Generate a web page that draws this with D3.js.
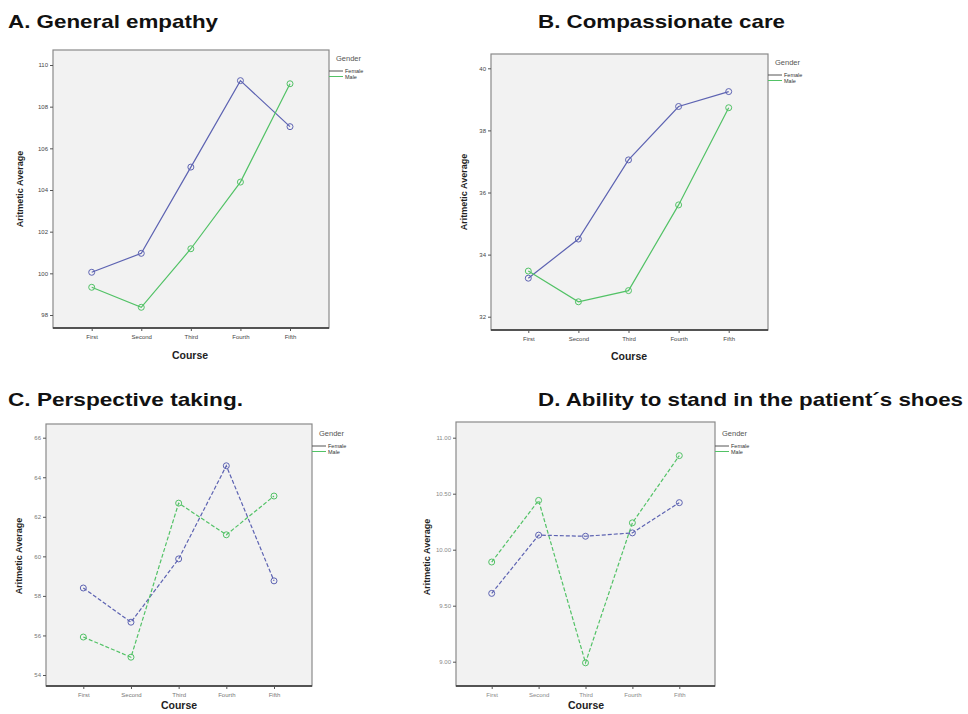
<!DOCTYPE html>
<html><head><meta charset="utf-8">
<script src="https://cdn.jsdelivr.net/npm/d3@7"></script>
<style>body{margin:0;background:#fff}svg{display:block}text{font-family:"Liberation Sans",Arial,sans-serif}</style>
</head><body>
<svg id="c" width="968" height="714"></svg>
<script>
// ---- data ----
const courses = ["First", "Second", "Third", "Fourth", "Fifth"];
const genders = ["Female", "Male"];

const empathyFemale = [100.05, 100.96, 105.1, 109.25, 107.04];
const empathyMale   = [99.33, 98.37, 101.18, 104.38, 109.1];
const empathyTicks  = [98, 100, 102, 104, 106, 108, 110];

const compassionFemale = [33.24, 34.5, 37.05, 38.77, 39.25];
const compassionMale   = [33.47, 32.48, 32.84, 35.6, 38.73];
const compassionTicks  = [32, 34, 36, 38, 40];

const perspectiveFemale = [58.4, 56.67, 59.87, 64.58, 58.76];
const perspectiveMale   = [55.92, 54.9, 62.69, 61.09, 63.05];
const perspectiveTicks  = [54, 56, 58, 60, 62, 64, 66];

const shoesFemale = [9.61, 10.13, 10.12, 10.15, 10.42];
const shoesMale   = [9.89, 10.44, 8.99, 10.24, 10.84];
const shoesTicks  = [9.0, 9.5, 10.0, 10.5, 11.0];

const titles = ["A. General empathy", "B. Compassionate care", "C. Perspective taking.", "D. Ability to stand in the patient\u00b4s shoes"];
const yTitle = "Aritmetic Average";
const xTitle = "Course";
const legendTitle = "Gender";

// ---- layout ----
const colors = {Female: "#5d63b2", Male: "#52c266"};
const panels = [
  {title: titles[0], f: empathyFemale, m: empathyMale, ticks: empathyTicks, fmt: d3.format("d"),
   box: [53, 50, 329, 328], yr: [315, 65], xr: [91.7, 290], tx: [8, 28, 210],
   yt: [23, 189], xt: [190, 359], leg: [329, 58], dash: null, tickCol: "#444"},
  {title: titles[1], f: compassionFemale, m: compassionMale, ticks: compassionTicks, fmt: d3.format("d"),
   box: [491, 54, 768, 330], yr: [316.7, 68.3], xr: [528.3, 728.7], tx: [538, 28, 247],
   yt: [467, 192], xt: [629, 360], leg: [768, 62], dash: null, tickCol: "#444"},
  {title: titles[2], f: perspectiveFemale, m: perspectiveMale, ticks: perspectiveTicks, fmt: d3.format("d"),
   box: [46, 424, 312, 686], yr: [675, 437.7], xr: [83.3, 274], tx: [8, 406, 235],
   yt: [22, 556], xt: [179, 709], leg: [312, 433], dash: "4,2", tickCol: "#777"},
  {title: titles[3], f: shoesFemale, m: shoesMale, ticks: shoesTicks, fmt: d3.format(".2f"),
   box: [456, 422, 715, 686], yr: [661.7, 437.7], xr: [491.7, 679.3], tx: [538, 406, 425],
   yt: [430, 557], xt: [586, 709], leg: [715, 433], dash: "4,2", tickCol: "#888"}
];

const svg = d3.select("#c");

panels.forEach(p => {
  const g = svg.append("g");
  const [x0, y0, x1, y1] = p.box;
  const y = d3.scaleLinear().domain([p.ticks[0], p.ticks[p.ticks.length - 1]]).range(p.yr);
  const x = d3.scalePoint().domain(courses).range(p.xr);

  // title
  g.append("text").attr("x", p.tx[0]).attr("y", p.tx[1]).attr("textLength", p.tx[2])
    .attr("lengthAdjust", "spacingAndGlyphs")
    .attr("font-size", 19).attr("font-weight", "bold").attr("fill", "#111").text(p.title);

  // plot background
  g.append("rect").attr("x", x0).attr("y", y0).attr("width", x1 - x0).attr("height", y1 - y0)
    .attr("fill", "#f2f2f2").attr("stroke", "#8a8a8a").attr("stroke-width", 1.2);

  // y axis
  const ya = g.append("g").attr("transform", `translate(${x0},0)`)
    .call(d3.axisLeft(y).tickValues(p.ticks).tickFormat(p.fmt).tickSize(3).tickPadding(2));
  ya.select(".domain").remove();
  ya.selectAll("line").attr("stroke", "#555");
  ya.selectAll("text").attr("font-size", 6).attr("fill", p.tickCol);

  // x axis
  const xa = g.append("g").attr("transform", `translate(0,${y1})`)
    .call(d3.axisBottom(x).tickSize(3).tickPadding(4));
  xa.select(".domain").attr("d", `M${x0},0H${x1}`).attr("stroke", "#333").attr("stroke-width", 1.4);
  xa.selectAll("line").attr("stroke", "#555");
  xa.selectAll("text").attr("font-size", 6).attr("fill", p.tickCol);

  // axis titles
  g.append("text").attr("transform", `translate(${p.yt[0]},${p.yt[1]}) rotate(-90)`)
    .attr("text-anchor", "middle").attr("font-size", 9).attr("font-weight", "bold")
    .attr("fill", "#222").text(yTitle);
  g.append("text").attr("x", p.xt[0]).attr("y", p.xt[1]).attr("text-anchor", "middle")
    .attr("font-size", 10.5).attr("font-weight", "bold").attr("fill", "#222").text(xTitle);

  // series
  const series = [{k: "Female", v: p.f}, {k: "Male", v: p.m}];
  const line = d3.line().x((d, i) => x(courses[i])).y(d => y(d));
  series.forEach(s => {
    g.append("path").attr("d", line(s.v)).attr("fill", "none")
      .attr("stroke", colors[s.k]).attr("stroke-width", 1.2)
      .attr("stroke-dasharray", p.dash);
    g.selectAll(null).data(s.v).enter().append("circle")
      .attr("cx", (d, i) => x(courses[i])).attr("cy", d => y(d)).attr("r", 3)
      .attr("fill", "none").attr("stroke", colors[s.k]).attr("stroke-width", 1);
  });

  // legend
  const [lx, ly] = p.leg;
  g.append("text").attr("x", lx + 7).attr("y", ly + 3).attr("font-size", 7.5).attr("fill", "#555").text(legendTitle);
  genders.forEach((gd, i) => {
    const yy = ly + 13 + i * 5.5;
    g.append("line").attr("x1", lx).attr("x2", lx + 14).attr("y1", yy).attr("y2", yy)
      .attr("stroke", i === 0 ? "#555" : colors[gd]).attr("stroke-width", 1);
    g.append("text").attr("x", lx + 16).attr("y", yy + 2).attr("font-size", 5.5).attr("fill", "#333").text(gd);
  });
});
</script>
</body></html>
